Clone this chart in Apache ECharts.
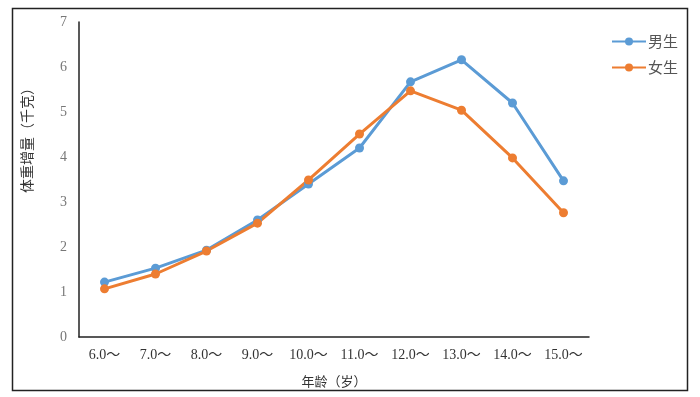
<!DOCTYPE html>
<html>

<head>
    <meta charset='utf-8'>
    <title>体重增量</title>
    <script src='https://cdn.jsdelivr.net/npm/echarts@6/dist/echarts.min.js'></script>
    <style>
        html, body { margin: 0; padding: 0; background: #fff; }
        #chart { width: 700px; height: 397px; }
    </style>
</head>

<body>
    <div id='chart'></div>

    <script type='text/javascript'>
        // data
        const ages = ['6.0～', '7.0～', '8.0～', '9.0～', '10.0～', '11.0～', '12.0～', '13.0～', '14.0～', '15.0～']
        const boys = [1.22, 1.53, 1.93, 2.6, 3.4, 4.2, 5.67, 6.16, 5.2, 3.47]
        const girls = [1.07, 1.4, 1.91, 2.53, 3.49, 4.51, 5.47, 5.04, 3.98, 2.76]
        const yTicks = [0, 1, 2, 3, 4, 5, 6, 7]

        const serif = '"Liberation Serif", "Noto Sans CJK SC", serif'
        const cjk = '"Noto Sans CJK SC", sans-serif'

        const chart = echarts.init(document.getElementById('chart'))
        const option = {
            backgroundColor: '#fff',
            animation: false,
            grid: {
                left: 79,
                top: 22,
                width: 510,
                height: 315
            },
            legend: {
                data: ['男生', '女生'],
                orient: 'vertical',
                left: 611,
                top: 34,
                padding: 0,
                itemWidth: 34,
                itemHeight: 10,
                itemGap: 11,
                textStyle: { fontFamily: cjk, fontSize: 15, color: '#555', padding: [0, 0, 0, -3] }
            },
            xAxis: {
                type: 'category',
                data: ages,
                boundaryGap: true,
                axisLine: { lineStyle: { color: '#222', width: 1.5 } },
                axisTick: { show: false },
                axisLabel: { fontFamily: serif, fontSize: 14, color: '#333', margin: 11, interval: 0 },
                name: '年龄（岁）',
                nameLocation: 'middle',
                nameGap: 38,
                nameTextStyle: { fontFamily: cjk, fontSize: 13, color: '#333' }
            },
            yAxis: {
                type: 'value',
                min: yTicks[0],
                max: yTicks[yTicks.length - 1],
                interval: 1,
                splitLine: { show: false },
                axisLine: { show: true, lineStyle: { color: '#222', width: 1.5 } },
                axisTick: { show: false },
                axisLabel: { fontFamily: serif, fontSize: 14, color: '#777', margin: 12 }
            },
            graphic: [
                {
                    type: 'rect',
                    shape: { x: 12.5, y: 8.5, width: 675, height: 382 },
                    style: { fill: 'none', stroke: '#222', lineWidth: 1.5 },
                    silent: true
                },
                {
                    type: 'text',
                    x: 27,
                    y: 137,
                    rotation: Math.PI / 2,
                    style: {
                        text: '体重增量（千克）',
                        fontFamily: cjk,
                        fontSize: 14,
                        fill: '#333',
                        align: 'center',
                        verticalAlign: 'middle'
                    }
                }
            ],
            series: [
                {
                    name: '男生',
                    type: 'line',
                    data: boys,
                    symbol: 'circle',
                    symbolSize: 9,
                    color: '#5b9bd5',
                    lineStyle: { width: 3 }
                },
                {
                    name: '女生',
                    type: 'line',
                    data: girls,
                    symbol: 'circle',
                    symbolSize: 9,
                    color: '#ed7d31',
                    lineStyle: { width: 3 }
                }
            ]
        }
        chart.setOption(option)
    </script>
</body>

</html>
